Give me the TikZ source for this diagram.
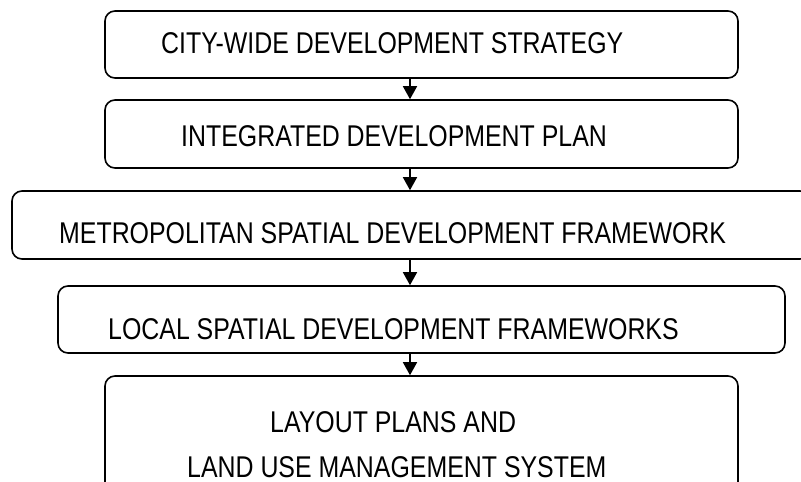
\documentclass[tikz,border=0pt]{standalone}
\usepackage{fontspec}
\setmainfont{Liberation Sans}[FakeStretch=0.83]
\usetikzlibrary{arrows.meta}

\tikzset{
  stage/.style={draw=black, line width=1.6pt, rounded corners=10pt, inner sep=0pt},
  stagetext/.style={anchor=base west, inner sep=0pt, font=\fontsize{30}{36}\selectfont},
  flow/.style={line width=1.6pt, -{Triangle[width=14pt,length=13pt]}}
}

\begin{document}
\begin{tikzpicture}[x=1pt,y=-1pt]
   \useasboundingbox (0,0) rectangle (801,482);
   \clip (0,0) rectangle (801,482);
   \node[stage, minimum width=633pt, minimum height=67pt] (cws)  at (421.5, 44.5) {};
   \node[stage, minimum width=633pt, minimum height=68pt] (idp)  at (421.5,134.0) {};
   \node[stage, minimum width=798pt, minimum height=68pt] (msdf) at (411.0,225.0) {};
   \node[stage, minimum width=727pt, minimum height=67pt] (lsdf) at (421.5,319.5) {};
   \node[stage, minimum width=633pt, minimum height=130pt] (lums) at (421.5,441.0) {};
   \node[stagetext] (t1) at (161, 53) {CITY-WIDE DEVELOPMENT STRATEGY};
   \node[stagetext] (t2) at (181,146) {INTEGRATED DEVELOPMENT PLAN};
   \node[stagetext] (t3) at ( 59,243) {METROPOLITAN SPATIAL DEVELOPMENT FRAMEWORK};
   \node[stagetext] (t4) at (108,339) {LOCAL SPATIAL DEVELOPMENT FRAMEWORKS};
   \node[stagetext] (t5) at (270,432) {LAYOUT PLANS AND};
   \node[stagetext] (t6) at (187,477) {LAND USE MANAGEMENT SYSTEM};
   \coordinate (ax) at (410,0);
   \draw[flow] (cws.south -| ax)  -- (idp.north -| ax);
   \draw[flow] (idp.south -| ax)  -- (msdf.north -| ax);
   \draw[flow] (msdf.south -| ax) -- (lsdf.north -| ax);
   \draw[flow] (lsdf.south -| ax) -- (lums.north -| ax);
\end{tikzpicture}
\end{document}
